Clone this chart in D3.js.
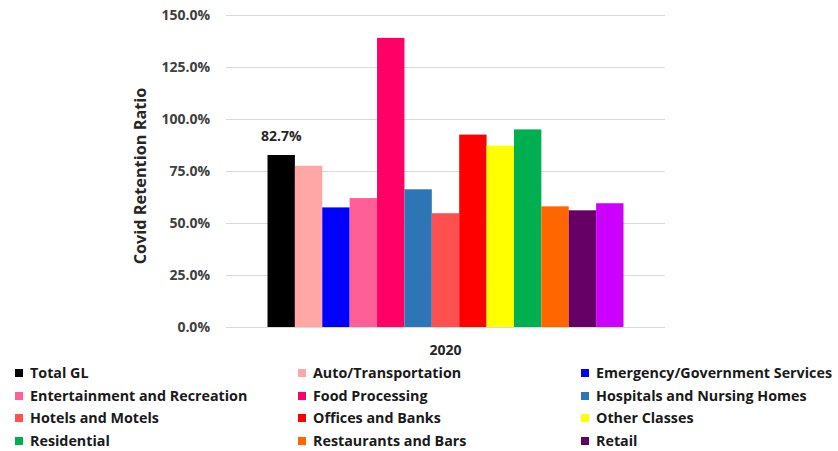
<!DOCTYPE html>
<html>
<head>
<meta charset="utf-8">
<script src="https://cdn.jsdelivr.net/npm/d3@7"></script>
<style>
  body { margin: 0; background: #fff; }
  svg { display: block; font-family: "Open Sans", Lato, sans-serif; }
</style>
</head>
<body>
<svg id="chart" width="838" height="451"></svg>
<script>
// Retention ratio by class of business, 2020
const years = ["2020"];
const categories = [
  "Total GL", "Auto/Transportation", "Emergency/Government Services",
  "Entertainment and Recreation", "Food Processing", "Hospitals and Nursing Homes",
  "Hotels and Motels", "Offices and Banks", "Other Classes",
  "Residential", "Restaurants and Bars", "Retail", "Miscellaneous"
];
const values = [0.827, 0.775, 0.575, 0.620, 1.390, 0.662, 0.547, 0.925, 0.872, 0.950, 0.580, 0.561, 0.595];
const colors = [
  "#000000", "#FFA7A7", "#0000FF", "#FF5F97", "#FF0066", "#2E75B6",
  "#FF5050", "#FF0000", "#FFFF00", "#00B050", "#FF6600", "#660066", "#CC00FF"
];
const yTicks = [0, 0.25, 0.5, 0.75, 1.0, 1.25, 1.5];
const labelled = ["Total GL"];
const legendCount = 12; // entries shown in the legend grid

const svg = d3.select("#chart");
const fmt = d3.format(".1%");

const plot = { left: 226, right: 665, top: 15, bottom: 327 };

const y = d3.scaleLinear().domain([0, 1.5]).range([plot.bottom, plot.top]);
const x0 = d3.scaleBand().domain(years).range([plot.left, plot.right])
  .paddingInner(0).paddingOuter(0.1166);
const x1 = d3.scaleBand().domain(categories).range([0, x0.bandwidth()]).padding(0);

// gridlines
svg.append("g")
  .selectAll("line")
  .data(yTicks)
  .join("line")
  .attr("x1", plot.left).attr("x2", plot.right)
  .attr("y1", d => y(d) + 0.5).attr("y2", d => y(d) + 0.5)
  .attr("stroke", "#d9d9d9").attr("stroke-width", 1.2);

// y axis labels
const yAxis = d3.axisLeft(y).tickValues(yTicks).tickFormat(fmt).tickSize(0).tickPadding(0);
const yg = svg.append("g").attr("transform", `translate(210,0)`).call(yAxis);
yg.select(".domain").remove();
yg.selectAll("text")
  .attr("fill", "#404040")
  .style("font-family", "'Open Sans', sans-serif")
  .style("font-size", "14px")
  .style("font-weight", "bold");

// y axis title
svg.append("text")
  .attr("transform", `translate(146,176) rotate(-90)`)
  .attr("text-anchor", "middle")
  .attr("fill", "#262626")
  .style("font-size", "16.3px")
  .style("font-weight", "bold")
  .text("Covid Retention Ratio");

// bars
const data = categories.map((c, i) => ({ cat: c, value: values[i], color: colors[i] }));
const group = svg.append("g").attr("transform", `translate(${x0("2020")},0)`);
group.selectAll("rect")
  .data(data)
  .join("rect")
  .attr("x", d => x1(d.cat))
  .attr("width", x1.bandwidth())
  .attr("y", d => y(d.value))
  .attr("height", d => y(0) - y(d.value))
  .attr("fill", d => d.color);

// value label
group.selectAll("text.val")
  .data(data.filter(d => labelled.includes(d.cat)))
  .join("text")
  .attr("class", "val")
  .attr("x", d => x1(d.cat) + x1.bandwidth() / 2)
  .attr("y", d => y(d.value) - 14)
  .attr("text-anchor", "middle")
  .attr("fill", "#262626")
  .style("font-size", "14px")
  .style("font-weight", "bold")
  .text(d => fmt(d.value));

// x axis label
svg.append("g")
  .selectAll("text")
  .data(years)
  .join("text")
  .attr("x", d => x0(d) + x0.bandwidth() / 2)
  .attr("y", 355)
  .attr("text-anchor", "middle")
  .attr("fill", "#262626")
  .style("font-size", "14px")
  .style("font-weight", "bold")
  .text(d => d);

// legend: 3 columns x 4 rows
const colX = [15, 298, 581];
const rowY = [373, 396, 418, 441];
const leg = svg.append("g")
  .selectAll("g")
  .data(data.slice(0, legendCount))
  .join("g")
  .attr("transform", (d, i) => `translate(${colX[i % 3]},${rowY[Math.floor(i / 3)]})`);
leg.append("rect")
  .attr("x", 0).attr("y", -4).attr("width", 8).attr("height", 8)
  .attr("fill", d => d.color);
leg.append("text")
  .attr("x", 15).attr("y", 0)
  .attr("dy", "0.35em")
  .attr("fill", "#1a1a1a")
  .style("font-size", "14.3px")
  .style("font-weight", "bold")
  .text(d => d.cat);
</script>
</body>
</html>
